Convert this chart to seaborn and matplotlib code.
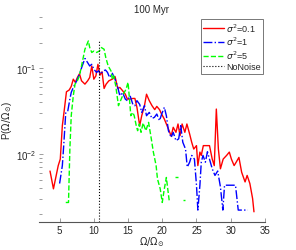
import matplotlib
matplotlib.use('Agg')
import matplotlib.pyplot as plt
import pandas as pd
import seaborn as sns

# ─── data (x = Ω/Ω☉, y = P) ───
red_pts = [
    (3.6, 0.0063), (4.1, 0.0039), (4.8, 0.0073), (5.1, 0.0087), (5.4, 0.0214),
    (5.7, 0.0335), (6.0, 0.0534), (6.4, 0.056), (6.7, 0.0617), (7.0, 0.075),
    (7.3, 0.0687), (7.6, 0.0785), (7.9, 0.0867), (8.2, 0.0718), (8.7, 0.0656),
    (9.1, 0.0718), (9.4, 0.0785), (9.7, 0.107), (10.0, 0.075), (10.3, 0.082),
    (10.6, 0.112), (10.9, 0.0836), (11.2, 0.0914), (11.5, 0.0584), (11.8, 0.0656),
    (12.2, 0.0718), (12.7, 0.075), (13.1, 0.0806), (13.5, 0.0584), (13.8, 0.060),
    (14.2, 0.055), (14.6, 0.050), (14.9, 0.0438), (15.3, 0.0438), (15.7, 0.0446),
    (16.0, 0.0446), (16.3, 0.0351), (16.7, 0.0214), (17.0, 0.028), (17.4, 0.0367),
    (17.7, 0.050), (18.1, 0.042), (18.5, 0.0367), (18.9, 0.033), (19.2, 0.036),
    (19.6, 0.033), (19.9, 0.0293), (20.3, 0.0256), (20.6, 0.0224), (21.0, 0.0187),
    (21.3, 0.0161), (21.6, 0.0205), (22.0, 0.0179), (22.3, 0.0224), (22.6, 0.0164),
    (22.9, 0.0224), (23.3, 0.0179), (23.6, 0.0224), (24.0, 0.0171), (24.3, 0.0137),
    (24.6, 0.0114), (25.0, 0.0125), (25.2, 0.0073), (25.5, 0.0105), (25.7, 0.0096),
    (26.0, 0.0125), (26.4, 0.0125), (26.9, 0.0125), (27.3, 0.0087), (27.6, 0.0073),
    (27.9, 0.0335), (28.2, 0.0114), (28.5, 0.0067), (28.9, 0.0087), (29.4, 0.0096),
    (29.8, 0.0105), (30.1, 0.0087), (30.5, 0.0073), (30.8, 0.008), (31.2, 0.0091),
    (31.6, 0.0061), (32.1, 0.0047), (32.4, 0.0056), (32.8, 0.0045), (33.2, 0.003),
    (33.4, 0.0021),
]

blue_pts = [
    (5.0, 0.0045), (5.4, 0.0073), (5.6, 0.0125), (5.9, 0.0306), (6.2, 0.032),
    (6.5, 0.0438), (6.7, 0.0525), (7.0, 0.060), (7.25, 0.0656), (7.6, 0.075),
    (7.9, 0.086), (8.3, 0.107), (8.7, 0.131), (9.1, 0.117), (9.4, 0.107),
    (9.7, 0.112), (10.0, 0.098), (10.4, 0.090), (10.7, 0.094), (11.0, 0.086),
    (11.4, 0.094), (11.7, 0.096), (12.0, 0.090), (12.3, 0.0785), (12.7, 0.088),
    (13.1, 0.075), (13.5, 0.060), (13.8, 0.048), (14.2, 0.0525), (14.6, 0.0438),
    (14.9, 0.042), (15.3, 0.048), (15.7, 0.038), (16.0, 0.0367), (16.3, 0.042),
    (16.7, 0.038), (17.0, 0.0306), (17.4, 0.0367), (17.7, 0.028), (18.1, 0.0306),
    (18.5, 0.026), (18.85, 0.0268), (19.2, 0.0293), (19.6, 0.0245), (19.9, 0.029),
    (20.3, 0.0351), (20.6, 0.028), (20.9, 0.0187), (21.3, 0.0156), (21.6, 0.0179),
    (22.0, 0.0143), (22.4, 0.015), (22.7, 0.0214), (23.0, 0.0137), (23.4, 0.0114),
    (23.65, 0.007), (24.0, 0.008), (24.3, 0.0096), (24.7, 0.0087), (25.0, 0.0043),
    (25.2, 0.0022), (25.5, 0.0043), (25.7, 0.008), (25.95, 0.0096), (26.3, 0.008),
    (26.6, 0.0106), (26.9, 0.0087), (27.3, 0.0067), (27.7, 0.0056), (28.1, 0.0063),
    (28.5, 0.0041), (28.85, 0.0022), (29.1, 0.0043), (29.6, 0.0043), (30.1, 0.0043),
    (30.7, 0.0043), (31.1, 0.0022), (31.6, 0.0022), (32.1, 0.0022), (32.5, 0.0022),
]

# green has empty bins, so it is kept as separate pieces
green_pieces = [
    [
        (5.9, 0.0027), (6.3, 0.0027), (6.5, 0.0114), (6.7, 0.028), (7.0, 0.048),
        (7.25, 0.0656), (7.6, 0.072), (7.9, 0.082), (8.3, 0.117), (8.7, 0.168),
        (9.2, 0.21), (9.4, 0.176), (9.7, 0.154), (10.0, 0.16), (10.4, 0.154),
        (10.8, 0.16), (11.1, 0.176), (11.5, 0.168), (11.75, 0.134), (12.1, 0.107),
        (12.5, 0.094), (12.7, 0.075), (12.9, 0.082), (13.2, 0.0628), (13.6, 0.0367),
        (14.0, 0.0438), (14.3, 0.050), (14.7, 0.057), (15.0, 0.0687), (15.2, 0.045),
        (15.4, 0.028), (15.7, 0.0306), (15.9, 0.028), (16.2, 0.0214), (16.4, 0.0187),
        (16.65, 0.0224), (16.9, 0.0179), (17.2, 0.023), (17.6, 0.0187), (18.0, 0.0234),
        (18.4, 0.015), (18.7, 0.0105), (19.1, 0.0073), (19.3, 0.0051), (19.7, 0.0039),
        (20.0, 0.0027), (20.3, 0.0039), (20.6, 0.0053), (20.8, 0.0039), (21.05, 0.0027),
    ],
    [(21.8, 0.0053), (22.3, 0.0053)],
    [(23.1, 0.0029), (23.35, 0.0029)],
]

no_noise_x = [10.8, 10.8]
no_noise_y = [0.0016, 0.21]

labels = [r'$\sigma^2$=0.1', r'$\sigma^2$=1', r'$\sigma^2$=5', 'NoNoise']

# ─── style ───
sns.set_style('white')
plt.rcParams['font.family'] = ['Liberation Sans', 'DejaVu Sans']
plt.rcParams['mathtext.fontset'] = 'dejavusans'
plt.rcParams['font.size'] = 7

fig = plt.figure(figsize=(2.96, 2.51), dpi=100)
ax = fig.add_axes([0.132, 0.112, 0.763, 0.816])


def _df(x, y):
    return pd.DataFrame({'x': x, 'y': y})


def _line(pts, **kw):
    xs, ys = zip(*pts)
    sns.lineplot(data=_df(xs, ys), x='x', y='y', ax=ax, sort=False,
                 estimator=None, errorbar=None, **kw)


_line(red_pts, color='#ff0000', linewidth=1.0, label=labels[0])
_line(blue_pts, color='#0000ff', linewidth=1.0, linestyle='-.', label=labels[1])
for i, piece in enumerate(green_pieces):
    _line(piece, color='#00ff00', linewidth=1.0, linestyle='--',
          label=labels[2] if i == 0 else None)
_line(list(zip(no_noise_x, no_noise_y)), color='black', linewidth=0.8,
      linestyle=':', label=labels[3])

ax.set_yscale('log')
ax.set_xlim(2, 35)
ax.set_ylim(0.0016, 0.4)

ax.set_xticks([5, 10, 15, 20, 25, 30, 35])
ax.tick_params(axis='both', which='both', direction='in', labelsize=7,
               left=True, bottom=True, length=2, width=0.5,
               color='#777777', pad=2)
ax.tick_params(axis='both', which='major', length=3)

for side in ['top', 'right', 'left']:
    ax.spines[side].set_visible(False)
ax.spines['bottom'].set_color('#555555')
ax.spines['bottom'].set_linewidth(0.8)

ax.set_xlabel(r'$\Omega/\Omega_{\odot}$', fontsize=7, labelpad=0)
ax.set_ylabel(r'P($\Omega/\Omega_{\odot}$)', fontsize=7, labelpad=1)
ax.set_title('100 Myr', fontsize=7, pad=4)

leg = ax.legend(loc='upper right', fontsize=6.5, frameon=True, fancybox=False,
                borderaxespad=0.2, handlelength=2.3, handletextpad=0.3,
                labelspacing=0.15, borderpad=0.25)
leg.get_frame().set_edgecolor('#555555')
leg.get_frame().set_linewidth(0.7)

fig.savefig('out.png', dpi=100)
